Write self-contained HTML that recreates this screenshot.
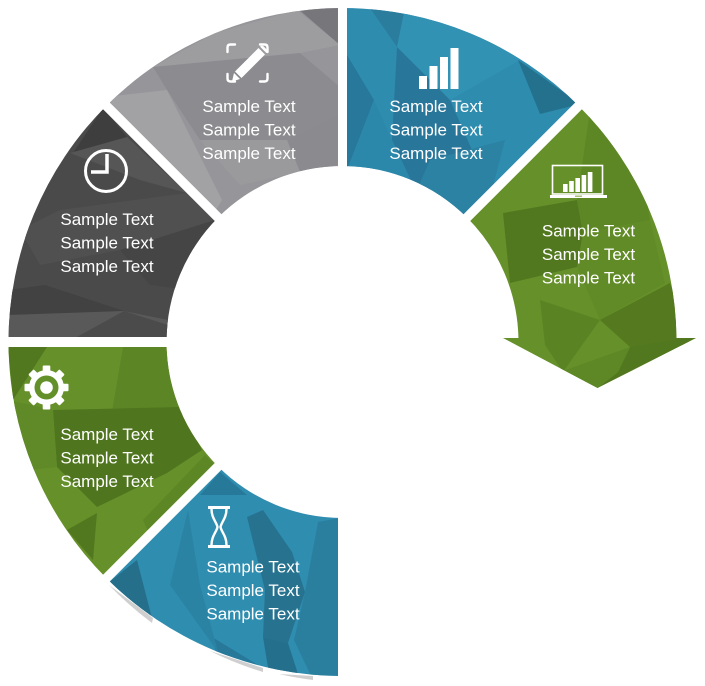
<!DOCTYPE html>
<html>
<head>
<meta charset="utf-8">
<style>
  html, body { margin:0; padding:0; background:#ffffff; }
  svg { display:block; }
  text { font-family: "Liberation Sans", "DejaVu Sans", sans-serif; font-size:17px; fill:#ffffff; text-anchor:middle; }
</style>
</head>
<body>
<svg width="705" height="686" viewBox="0 0 705 686" xmlns="http://www.w3.org/2000/svg">
  <defs>
    <clipPath id="cBlueTop"><path d="M342.5,8 A334,334 0 0 1 578.67,105.83 L466.95,217.55 A176,176 0 0 0 342.5,166 Z"/></clipPath>
    <clipPath id="cGreenR"><path d="M578.67,105.83 A334,334 0 0 1 676.48,338 L696,338 L597.5,388 L503,338 L518.45,338 A176,176 0 0 0 466.95,217.55 Z"/></clipPath>
    <clipPath id="cBlueB"><path d="M342.5,676 A334,334 0 0 1 106.33,578.17 L218.05,466.45 A176,176 0 0 0 342.5,518 Z"/></clipPath>
    <clipPath id="cGreenL"><path d="M106.33,578.17 A334,334 0 0 1 8.5,342 L166.5,342 A176,176 0 0 0 218.05,466.45 Z"/></clipPath>
    <clipPath id="cDGray"><path d="M8.5,342 A334,334 0 0 1 106.33,105.83 L218.05,217.55 A176,176 0 0 0 166.5,342 Z"/></clipPath>
    <clipPath id="cLGray"><path d="M106.33,105.83 A334,334 0 0 1 342.5,8 L342.5,166 A176,176 0 0 0 218.05,217.55 Z"/></clipPath>
  </defs>

  <!-- shadow pieces under bottom blue -->
  <g fill="#cfcfcf">
    <path d="M109,585 A334,334 0 0 0 152,623 L153,618 Z"/>
    <path d="M210,651 A334,334 0 0 0 263,672 L263,668 Z"/>
    <path d="M279,674 A334,334 0 0 0 313,680 L313,676 Z"/>
  </g>

  <!-- Blue top -->
  <g clip-path="url(#cBlueTop)">
    <rect x="330" y="0" width="260" height="230" fill="#2e8cae"/>
    <polygon points="347,55 374,100 347,170" fill="#27789a"/>
    <polygon points="370,8 405,8 397,47" fill="#2a7d9c"/>
    <polygon points="405,8 470,18 520,60 450,100 397,47" fill="#3192b4"/>
    <polygon points="397,47 450,100 472,150 420,200 392,140" fill="#28769a"/>
    <polygon points="518,60 580,104 540,114" fill="#24718e"/>
    <polygon points="430,160 505,140 482,228 400,228" fill="#2b82a3"/>
    <polygon points="347,170 374,100 392,140 420,200 380,200" fill="#2c88aa"/>
  </g>

  <!-- Green right with arrow -->
  <g clip-path="url(#cGreenR)">
    <rect x="460" y="90" width="245" height="300" fill="#66902a"/>
    <polygon points="503,213 577,200 583,233 577,267 510,283" fill="#52781f"/>
    <polygon points="577,200 590,110 640,150 650,220 583,233" fill="#5d8725"/>
    <polygon points="583,233 650,220 665,283 600,320 577,267" fill="#618b27"/>
    <polygon points="670,283 690,345 630,347 600,320" fill="#54791f"/>
    <polygon points="630,347 700,336 597.5,388 618,372" fill="#52781f"/>
    <polygon points="560,372 630,347 618,372 597.5,388" fill="#5e8826"/>
    <polygon points="540,300 600,320 563,372 545,345" fill="#5a8323"/>
  </g>

  <!-- Blue bottom -->
  <g clip-path="url(#cBlueB)">
    <rect x="100" y="460" width="250" height="225" fill="#2f8db0"/>
    <polygon points="200,495 220,472 247,495" fill="#27799a"/>
    <polygon points="108,583 137,560 153,622" fill="#256f8b"/>
    <polygon points="247,517 263,510 292,552 305,592 288,643 263,637 265,590" fill="#26728f"/>
    <polygon points="318,522 340,518 340,680 313,680 294,640 305,592" fill="#2a7f9f"/>
    <polygon points="212,637 258,665 216,652" fill="#28789a"/>
    <polygon points="170,585 188,510 200,585 218,652" fill="#2b83a4"/>
    <polygon points="263,637 288,643 300,680 270,680" fill="#24708c"/>
  </g>

  <!-- Green left -->
  <g clip-path="url(#cGreenL)">
    <rect x="0" y="340" width="230" height="250" fill="#66902a"/>
    <polygon points="8,347 47,347 13,400" fill="#52781f"/>
    <polygon points="123,347 166,347 180,407 110,423" fill="#5c8625"/>
    <polygon points="53,410 180,407 202,450 167,473 97,507 57,467" fill="#4f751e"/>
    <polygon points="67,530 97,513 93,560" fill="#52781f"/>
    <polygon points="143,520 205,455 220,470 160,560" fill="#5d8725"/>
    <polygon points="8,400 53,410 57,467 30,470" fill="#5f8a27"/>
  </g>

  <!-- Dark gray -->
  <g clip-path="url(#cDGray)">
    <rect x="0" y="100" width="230" height="245" fill="#4a4a4a"/>
    <polygon points="103,108 127,137 73,153" fill="#3e3e3e"/>
    <polygon points="70,153 127,137 187,193 140,180" fill="#565656"/>
    <polygon points="20,230 60,210 187,193 215,220 120,250 40,265" fill="#505050"/>
    <polygon points="8,290 45,285 124,311 8,315" fill="#424242"/>
    <polygon points="8,315 124,311 168,320 168,338 8,338" fill="#595959"/>
    <polygon points="75,338 124,311 168,325 168,338" fill="#4b4b4b"/>
    <polygon points="120,250 215,220 190,290 150,285" fill="#454545"/>
  </g>

  <!-- Light gray -->
  <g clip-path="url(#cLGray)">
    <rect x="100" y="0" width="245" height="225" fill="#96969a"/>
    <polygon points="297,8 340,8 340,45" fill="#77777b"/>
    <polygon points="215,33 297,10 340,45 300,53 153,67" fill="#9d9da0"/>
    <polygon points="153,67 300,53 340,87 340,113 287,140 200,140 167,90" fill="#8c8c90"/>
    <polygon points="105,97 167,90 222,200 213,215" fill="#a2a2a5"/>
    <polygon points="287,140 340,113 340,165 300,172" fill="#8b8b8f"/>
    <polygon points="200,140 287,140 300,172 240,185" fill="#9a9a9d"/>
  </g>

  <!-- white gap lines -->
  <g stroke="#ffffff" fill="none">
    <line x1="342.5" y1="0" x2="342.5" y2="686" stroke-width="9"/>
    <line x1="0" y1="342" x2="200" y2="342" stroke-width="10"/>
    <line x1="59.7" y1="624.8" x2="625.3" y2="59.2" stroke-width="9.5"/>
    <line x1="59.7" y1="59.2" x2="342.5" y2="342" stroke-width="9.5"/>
  </g>

  <!-- Icons -->
  <g fill="#ffffff">
    <rect x="419" y="76" width="8" height="13"/>
    <rect x="429.5" y="66" width="8" height="23"/>
    <rect x="440" y="57" width="8" height="32"/>
    <rect x="450.5" y="48" width="8" height="41"/>
  </g>

  <g>
    <rect x="552.5" y="165.5" width="50" height="28.5" fill="none" stroke="#ffffff" stroke-width="1.6"/>
    <rect x="550" y="195" width="57" height="3" fill="#ffffff"/>
    <rect x="575" y="195.6" width="7" height="1.2" fill="#8fb45a"/>
    <rect x="563" y="184" width="4.6" height="8" fill="#ffffff"/>
    <rect x="569.2" y="181" width="4.6" height="11" fill="#ffffff"/>
    <rect x="575.4" y="178" width="4.6" height="14" fill="#ffffff"/>
    <rect x="581.6" y="175" width="4.6" height="17" fill="#ffffff"/>
    <rect x="587.8" y="172" width="4.6" height="20" fill="#ffffff"/>
  </g>

  <g fill="none" stroke="#ffffff" stroke-width="2.4" stroke-linecap="round">
    <path d="M227.5,52 V47.5 Q227.5,44.5 230.5,44.5 H235"/>
    <path d="M260,44.5 H264.5 Q267.5,44.5 267.5,47.5 V52"/>
    <path d="M227.5,74 V78.5 Q227.5,81.5 230.5,81.5 H235"/>
    <path d="M260,81.5 H264.5 Q267.5,81.5 267.5,78.5 V74"/>
  </g>
  <g fill="#ffffff">
    <path d="M258.5,48 L265,54.5 L241.5,78 L235,71.5 Z"/>
    <path d="M260,46.6 Q262,44.8 264,46.8 L266.4,49.2 Q268.2,51 266.4,53 Z"/>
    <path d="M234,73 L240,79 L232,81.5 Z"/>
  </g>

  <g fill="none" stroke="#ffffff">
    <circle cx="106" cy="171" r="20.5" stroke-width="3"/>
    <polyline points="107,154 107,172 91,172" stroke-width="3.5"/>
  </g>

  <g fill="#ffffff" transform="translate(46.5,387.5)">
    <circle r="17.5"/>
    <rect x="-3.8" y="-22" width="7.6" height="9" rx="1"/>
    <rect x="-3.8" y="-22" width="7.6" height="9" rx="1" transform="rotate(45)"/>
    <rect x="-3.8" y="-22" width="7.6" height="9" rx="1" transform="rotate(90)"/>
    <rect x="-3.8" y="-22" width="7.6" height="9" rx="1" transform="rotate(135)"/>
    <rect x="-3.8" y="-22" width="7.6" height="9" rx="1" transform="rotate(180)"/>
    <rect x="-3.8" y="-22" width="7.6" height="9" rx="1" transform="rotate(225)"/>
    <rect x="-3.8" y="-22" width="7.6" height="9" rx="1" transform="rotate(270)"/>
    <rect x="-3.8" y="-22" width="7.6" height="9" rx="1" transform="rotate(315)"/>
    <circle r="12" fill="#64902a"/>
    <circle r="6.3" fill="#ffffff"/>
  </g>

  <g>
    <rect x="208" y="506" width="22" height="3" fill="#ffffff"/>
    <rect x="208" y="545" width="22" height="3" fill="#ffffff"/>
    <path d="M211.5,509 C211.5,518 216.5,522 217.5,527 C216.5,532 211.5,536 211.5,545 M226.5,509 C226.5,518 221.5,522 220.5,527 C221.5,532 226.5,536 226.5,545" fill="none" stroke="#ffffff" stroke-width="2.4"/>
  </g>

  <!-- Texts -->
  <text x="436" y="112">Sample Text</text>
  <text x="436" y="135.5">Sample Text</text>
  <text x="436" y="159">Sample Text</text>

  <text x="249" y="112">Sample Text</text>
  <text x="249" y="135.5">Sample Text</text>
  <text x="249" y="159">Sample Text</text>

  <text x="107" y="225">Sample Text</text>
  <text x="107" y="248.5">Sample Text</text>
  <text x="107" y="272">Sample Text</text>

  <text x="588.5" y="236.5">Sample Text</text>
  <text x="588.5" y="260">Sample Text</text>
  <text x="588.5" y="283.5">Sample Text</text>

  <text x="107" y="440">Sample Text</text>
  <text x="107" y="463.5">Sample Text</text>
  <text x="107" y="487">Sample Text</text>

  <text x="253" y="572.5">Sample Text</text>
  <text x="253" y="596">Sample Text</text>
  <text x="253" y="619.5">Sample Text</text>
</svg>
</body>
</html>
